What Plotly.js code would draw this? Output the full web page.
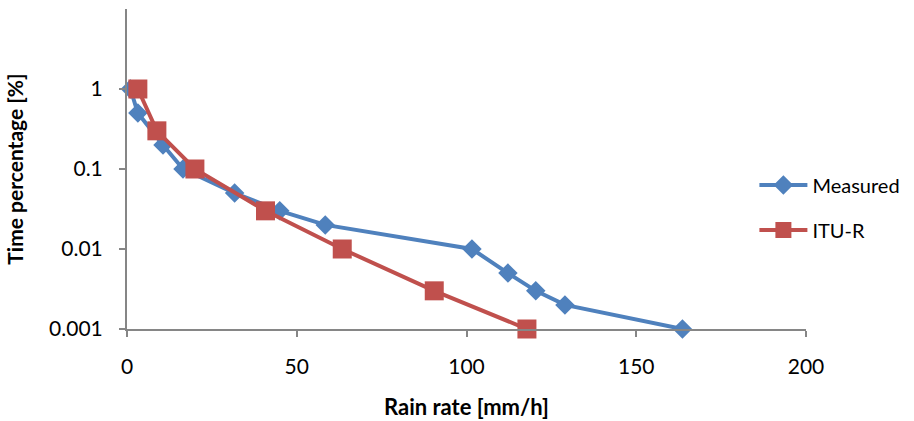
<!DOCTYPE html>
<html>
<head>
<meta charset="utf-8">
<script src="https://cdn.plot.ly/plotly-3.0.1.min.js"></script>
<style>html,body{margin:0;padding:0;background:#fff;}#chart{width:914px;height:421px;}</style>
</head>
<body>
<div id="chart"></div>
<script>
const measuredRain = [1, 3.2, 10.6, 16.5, 31.7, 45, 58.4, 101.6, 112.2, 120.4, 129, 163.6];
const measuredTime = [1, 0.5, 0.2, 0.1, 0.05, 0.03, 0.02, 0.01, 0.005, 0.003, 0.002, 0.001];
const ituRain = [3.2, 8.8, 20, 40.8, 63.4, 90.5, 117.8];
const ituTime = [1, 0.3, 0.1, 0.03, 0.01, 0.003, 0.001];
const yTickVals = [0.001, 0.01, 0.1, 1];
const yTickText = ['0.001', '0.01', '0.1', '1'];
const xTickVals = [0, 50, 100, 150, 200];

const font = 'Lato, "Open Sans", sans-serif';
const data = [
  {x: measuredRain, y: measuredTime, name: 'Measured', legendgroup: 'measured', type: 'scatter', mode: 'lines+markers',
   line: {color: '#4F81BD', width: 4}, marker: {symbol: 'diamond', size: 15, color: '#4F81BD'}, cliponaxis: false},
  {x: ituRain, y: ituTime, name: 'ITU-R', legendgroup: 'itur', type: 'scatter', mode: 'lines+markers',
   line: {color: '#C0504D', width: 4}, marker: {symbol: 'square', size: 19, color: '#C0504D'}, cliponaxis: false}
];
const layout = {
  width: 914, height: 421,
  margin: {l: 127, r: 106, t: 9, b: 92},
  paper_bgcolor: '#fff', plot_bgcolor: '#fff',
  font: {family: font, size: 21, color: '#000'},
  showlegend: true,
  legend: {x: 0.924, y: 0.38, xanchor: 'left', yanchor: 'middle', font: {family: font, size: 20}, itemwidth: 48,
           traceorder: 'grouped', tracegroupgap: 16, bgcolor: 'rgba(0,0,0,0)'},
  xaxis: {range: [0, 200], tickvals: xTickVals, showgrid: false, zeroline: false, showline: true, linecolor: '#868686', linewidth: 2,
          ticks: 'outside', ticklen: 6, tickcolor: '#868686', tickwidth: 2, tickfont: {size: 21}, ticklabelstandoff: 12,
          title: {text: '<b>Rain rate [mm/h]</b>', font: {size: 22}, standoff: 22}},
  yaxis: {type: 'log', range: [-3, 1], tickvals: yTickVals, ticktext: yTickText, showgrid: false, zeroline: false, showline: true,
          linecolor: '#868686', linewidth: 2, ticks: 'outside', ticklen: 6, tickcolor: '#868686', tickwidth: 2, tickfont: {size: 21},
          ticklabelstandoff: 12,
          title: {text: '<b>Time percentage [%]</b>', font: {size: 21}, standoff: 20}}
};
Plotly.newPlot('chart', data, layout, {displayModeBar: false, staticPlot: true});
</script>
</body>
</html>
